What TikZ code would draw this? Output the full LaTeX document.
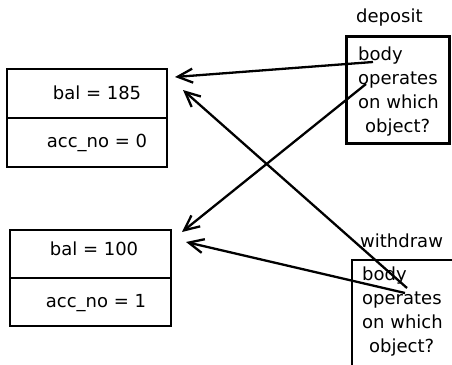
\documentclass[tikz,border=0pt]{standalone}
\usepackage{fontspec}
\setmainfont{DejaVu Sans}
\usetikzlibrary{arrows.meta}
\begin{document}
\begin{tikzpicture}[x=1pt,y=-1pt,
  every node/.style={font=\fontsize{18}{24}\selectfont, inner sep=0pt},
  cell/.style={draw, line width=2.6pt, minimum width=160pt, minimum height=49pt},
  txt/.style={anchor=base},
  method/.style={draw, line width=2.6pt, anchor=north west},
  lines/.style={anchor=north west, align=left},
  ref/.style={line width=2.3pt, -{Straight Barb[length=15pt,width=14pt,line width=2.3pt]}}]
\useasboundingbox (0,0) rectangle (452,364);
% first account object
\node[cell] (bal185) at (87,93.5) {};
\node[cell] (acc0) at (87,142.5) {};
\node[txt] (t185) at (97,99) {bal = 185};
\node[txt] (t0) at (97,147) {acc\_no = 0};
% second account object
\node[cell, minimum width=161pt, minimum height=48pt] (bal100) at (90.5,254) {};
\node[cell, minimum width=161pt, minimum height=48pt] (acc1) at (90.5,302) {};
\node[txt] (t100) at (94,255) {bal = 100};
\node[txt] (t1) at (96,307) {acc\_no = 1};
% deposit method
\node[anchor=base west] (deplabel) at (356,22) {deposit};
\node[method, minimum width=103pt, minimum height=107pt] (dep) at (345,35) {};
\node[lines] (deptext) at (358,47) {body\\operates\\on which\\\hspace{7pt}object?};
% withdraw method (box runs past the lower and right edges)
\node[anchor=base west] (wlabel) at (360,247) {withdraw};
\draw[line width=2.6pt] (352,370) -- (352,260) -- (460,260);
\node[lines] (wtext) at (362,267) {body\\operates\\on which\\\hspace{7pt}object?};
% references from method bodies to objects
\coordinate (d1) at (373,62);
\coordinate (d2) at (366,84);
\coordinate (w1) at (407,288);
\coordinate (w2) at (405,293);
\coordinate (a1) at (175,77);
\coordinate (a2) at (183,90);
\coordinate (b1) at (182,232);
\coordinate (b2) at (186,242);
\draw[ref] (d1) -- (a1);
\draw[ref] (d2) -- (b1);
\draw[ref] (w1) -- (a2);
\draw[ref] (w2) -- (b2);
\end{tikzpicture}
\end{document}
